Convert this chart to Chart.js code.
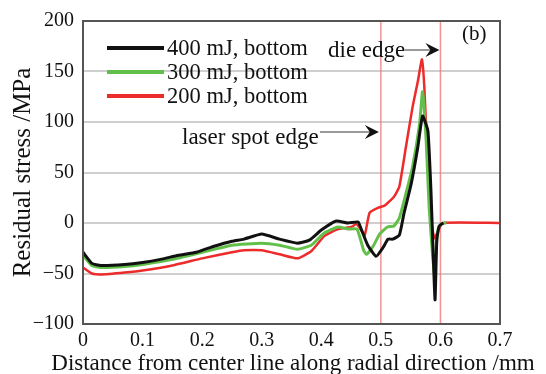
<html>
  <head>
    <script src="https://cdn.jsdelivr.net/npm/chart.js"></script>
    <style>
      body { margin: 0; background: #fff; }
      #wrap { width: 546px; height: 374px; }
    </style>
  </head>
  <body>
    <div id="wrap"><canvas id="graph-stress" width="546" height="374"></canvas></div>
    <script>
      // 400 mJ, bottom
      var blackX = [0, 0.015, 0.03, 0.07, 0.1, 0.13, 0.16, 0.19, 0.22, 0.25, 0.27, 0.3, 0.33, 0.36, 0.38, 0.40, 0.425, 0.445, 0.462, 0.467, 0.478, 0.492, 0.504, 0.512, 0.52, 0.531, 0.539, 0.551, 0.562, 0.570, 0.579, 0.584, 0.589, 0.591, 0.594, 0.598, 0.605];
      var blackY = [-29, -40, -42, -41, -39, -36, -32, -29, -23, -18, -16, -11, -16, -20, -17, -7, 2, 0, 1, -6, -22, -33, -24, -16, -16, -12, 10, 39, 75, 106, 91, 33, -49, -76, -16, -3, 0];
      // 300 mJ, bottom
      var greenX = [0, 0.015, 0.03, 0.07, 0.1, 0.15, 0.2, 0.25, 0.3, 0.33, 0.36, 0.383, 0.405, 0.428, 0.445, 0.46, 0.471, 0.476, 0.487, 0.498, 0.511, 0.522, 0.531, 0.542, 0.553, 0.565, 0.570, 0.576, 0.581, 0.587, 0.590, 0.593, 0.597, 0.604, 0.61];
      var greenY = [-32, -42, -44, -43, -41, -36, -29, -22, -20, -22, -26, -22, -10, -4, -6, -6, -27, -31, -23, -11, -4, -3, 5, 29, 55, 98, 130, 82, 16, -33, -50, -23, -4, 0, 0];
      // 200 mJ, bottom
      var redX = [0, 0.015, 0.03, 0.07, 0.1, 0.15, 0.2, 0.25, 0.27, 0.3, 0.33, 0.36, 0.383, 0.405, 0.428, 0.45, 0.459, 0.467, 0.473, 0.481, 0.495, 0.506, 0.522, 0.531, 0.542, 0.553, 0.562, 0.569, 0.573, 0.579, 0.584, 0.59, 0.596, 0.604, 0.7];
      var redY = [-44, -50, -51, -49, -47, -42, -35, -29, -27, -27, -31, -35, -28, -13, -6, -4, -1, -7, -12, 10, 15, 17, 26, 36, 75, 114, 140, 162, 134, 55, 3, -15, -8, 0, 0];

      var seriesLabels = ["400 mJ, bottom", "300 mJ, bottom", "200 mJ, bottom"];
      var seriesColors = ["#111111", "#62c04a", "#ee2b2b"];
      var edgeLines = [0.5, 0.6];   // laser spot edge, die edge
      var xTitle = "Distance from center line along radial direction /mm";

      var serif = "'Liberation Serif', 'DejaVu Serif', serif";

      function toPoints(xs, ys) {
        var pts = [];
        for (var i = 0; i < xs.length; i++) pts.push({ x: xs[i], y: ys[i] });
        return pts;
      }

      function arrow(ctx, x1, x2, y) {
        ctx.save();
        ctx.strokeStyle = "#9a9a9a";
        ctx.lineWidth = 2;
        ctx.beginPath();
        ctx.moveTo(x1, y);
        ctx.lineTo(x2 - 6, y);
        ctx.stroke();
        ctx.fillStyle = "#111";
        ctx.beginPath();
        ctx.moveTo(x2, y);
        ctx.lineTo(x2 - 14, y - 7);
        ctx.lineTo(x2 - 9, y);
        ctx.lineTo(x2 - 14, y + 7);
        ctx.closePath();
        ctx.fill();
        ctx.restore();
      }

      var extras = {
        id: "extras",
        beforeDatasetsDraw: function (chart) {
          var ctx = chart.ctx, a = chart.chartArea, xs = chart.scales.x;
          ctx.save();
          ctx.strokeStyle = "rgba(240,110,110,0.75)";
          ctx.lineWidth = 1.5;
          edgeLines.forEach(function (v) {
            var px = xs.getPixelForValue(v);
            ctx.beginPath();
            ctx.moveTo(px, a.top);
            ctx.lineTo(px, a.bottom);
            ctx.stroke();
          });
          ctx.restore();
        },
        afterDraw: function (chart) {
          var ctx = chart.ctx, a = chart.chartArea, xs = chart.scales.x;
          ctx.save();
          // frame
          ctx.strokeStyle = "#555";
          ctx.lineWidth = 2;
          ctx.strokeRect(a.left, a.top, a.right - a.left, a.bottom - a.top);
          // legend
          ctx.font = "22.5px " + serif;
          ctx.textBaseline = "middle";
          ctx.fillStyle = "#111";
          for (var i = 0; i < seriesLabels.length; i++) {
            var y = 48 + i * 24;
            ctx.strokeStyle = seriesColors[i];
            ctx.lineWidth = 4;
            ctx.beginPath();
            ctx.moveTo(107, y);
            ctx.lineTo(164, y);
            ctx.stroke();
            ctx.fillText(seriesLabels[i], 167, y + 1);
          }
          // annotations
          ctx.font = "23px " + serif;
          ctx.fillText("die edge", 328, 51);
          ctx.fillText("laser spot edge", 182, 138);
          ctx.font = "21px " + serif;
          ctx.fillText("(b)", 462, 34);
          // x axis title (wider than the plot, so drawn here)
          ctx.font = "23px " + serif;
          ctx.textAlign = "center";
          ctx.fillText(xTitle, 293, 364);
          ctx.restore();
          arrow(ctx, 405, xs.getPixelForValue(0.6) - 1, 50);
          arrow(ctx, 320, xs.getPixelForValue(0.5) - 2, 132);
        }
      };

      var ctx = document.getElementById("graph-stress").getContext("2d");
      var graph = new Chart(ctx, {
        type: "line",
        data: {
          datasets: [
            { label: seriesLabels[0], data: toPoints(blackX, blackY), borderColor: seriesColors[0], borderWidth: 3 },
            { label: seriesLabels[1], data: toPoints(greenX, greenY), borderColor: seriesColors[1], borderWidth: 3 },
            { label: seriesLabels[2], data: toPoints(redX, redY), borderColor: seriesColors[2], borderWidth: 2.5 }
          ]
        },
        options: {
          responsive: false,
          animation: false,
          elements: { point: { radius: 0 }, line: { tension: 0.15 } },
          layout: { padding: { left: 0, right: 46, top: 20, bottom: 0 } },
          plugins: { legend: { display: false }, tooltip: { enabled: false } },
          scales: {
            x: {
              type: "linear",
              min: 0, max: 0.7,
              afterFit: function (s) { s.height = 50; },
              ticks: {
                stepSize: 0.1, color: "#111", padding: -3,
                font: { family: serif, size: 20 },
                callback: function (v) { return v === 0 ? "0" : v.toFixed(1); }
              },
              grid: { display: false },
              border: { color: "#555", width: 2 },
              title: { display: false }
            },
            y: {
              min: -100, max: 200,
              afterFit: function (s) { s.width = 83; },
              ticks: {
                stepSize: 50, color: "#111", padding: 9,
                font: { family: serif, size: 20 },
                callback: function (v) { return v < 0 ? "\u2212" + Math.abs(v) : String(v); }
              },
              grid: { color: "#cfcfcf", lineWidth: 2, drawTicks: false },
              border: { color: "#555", width: 2 },
              title: {
                display: true, text: "Residual stress /MPa",
                color: "#111", font: { family: serif, size: 25 }, padding: { top: 8, bottom: 0 }
              }
            }
          }
        },
        plugins: [extras]
      });
    </script>
  </body>
</html>
